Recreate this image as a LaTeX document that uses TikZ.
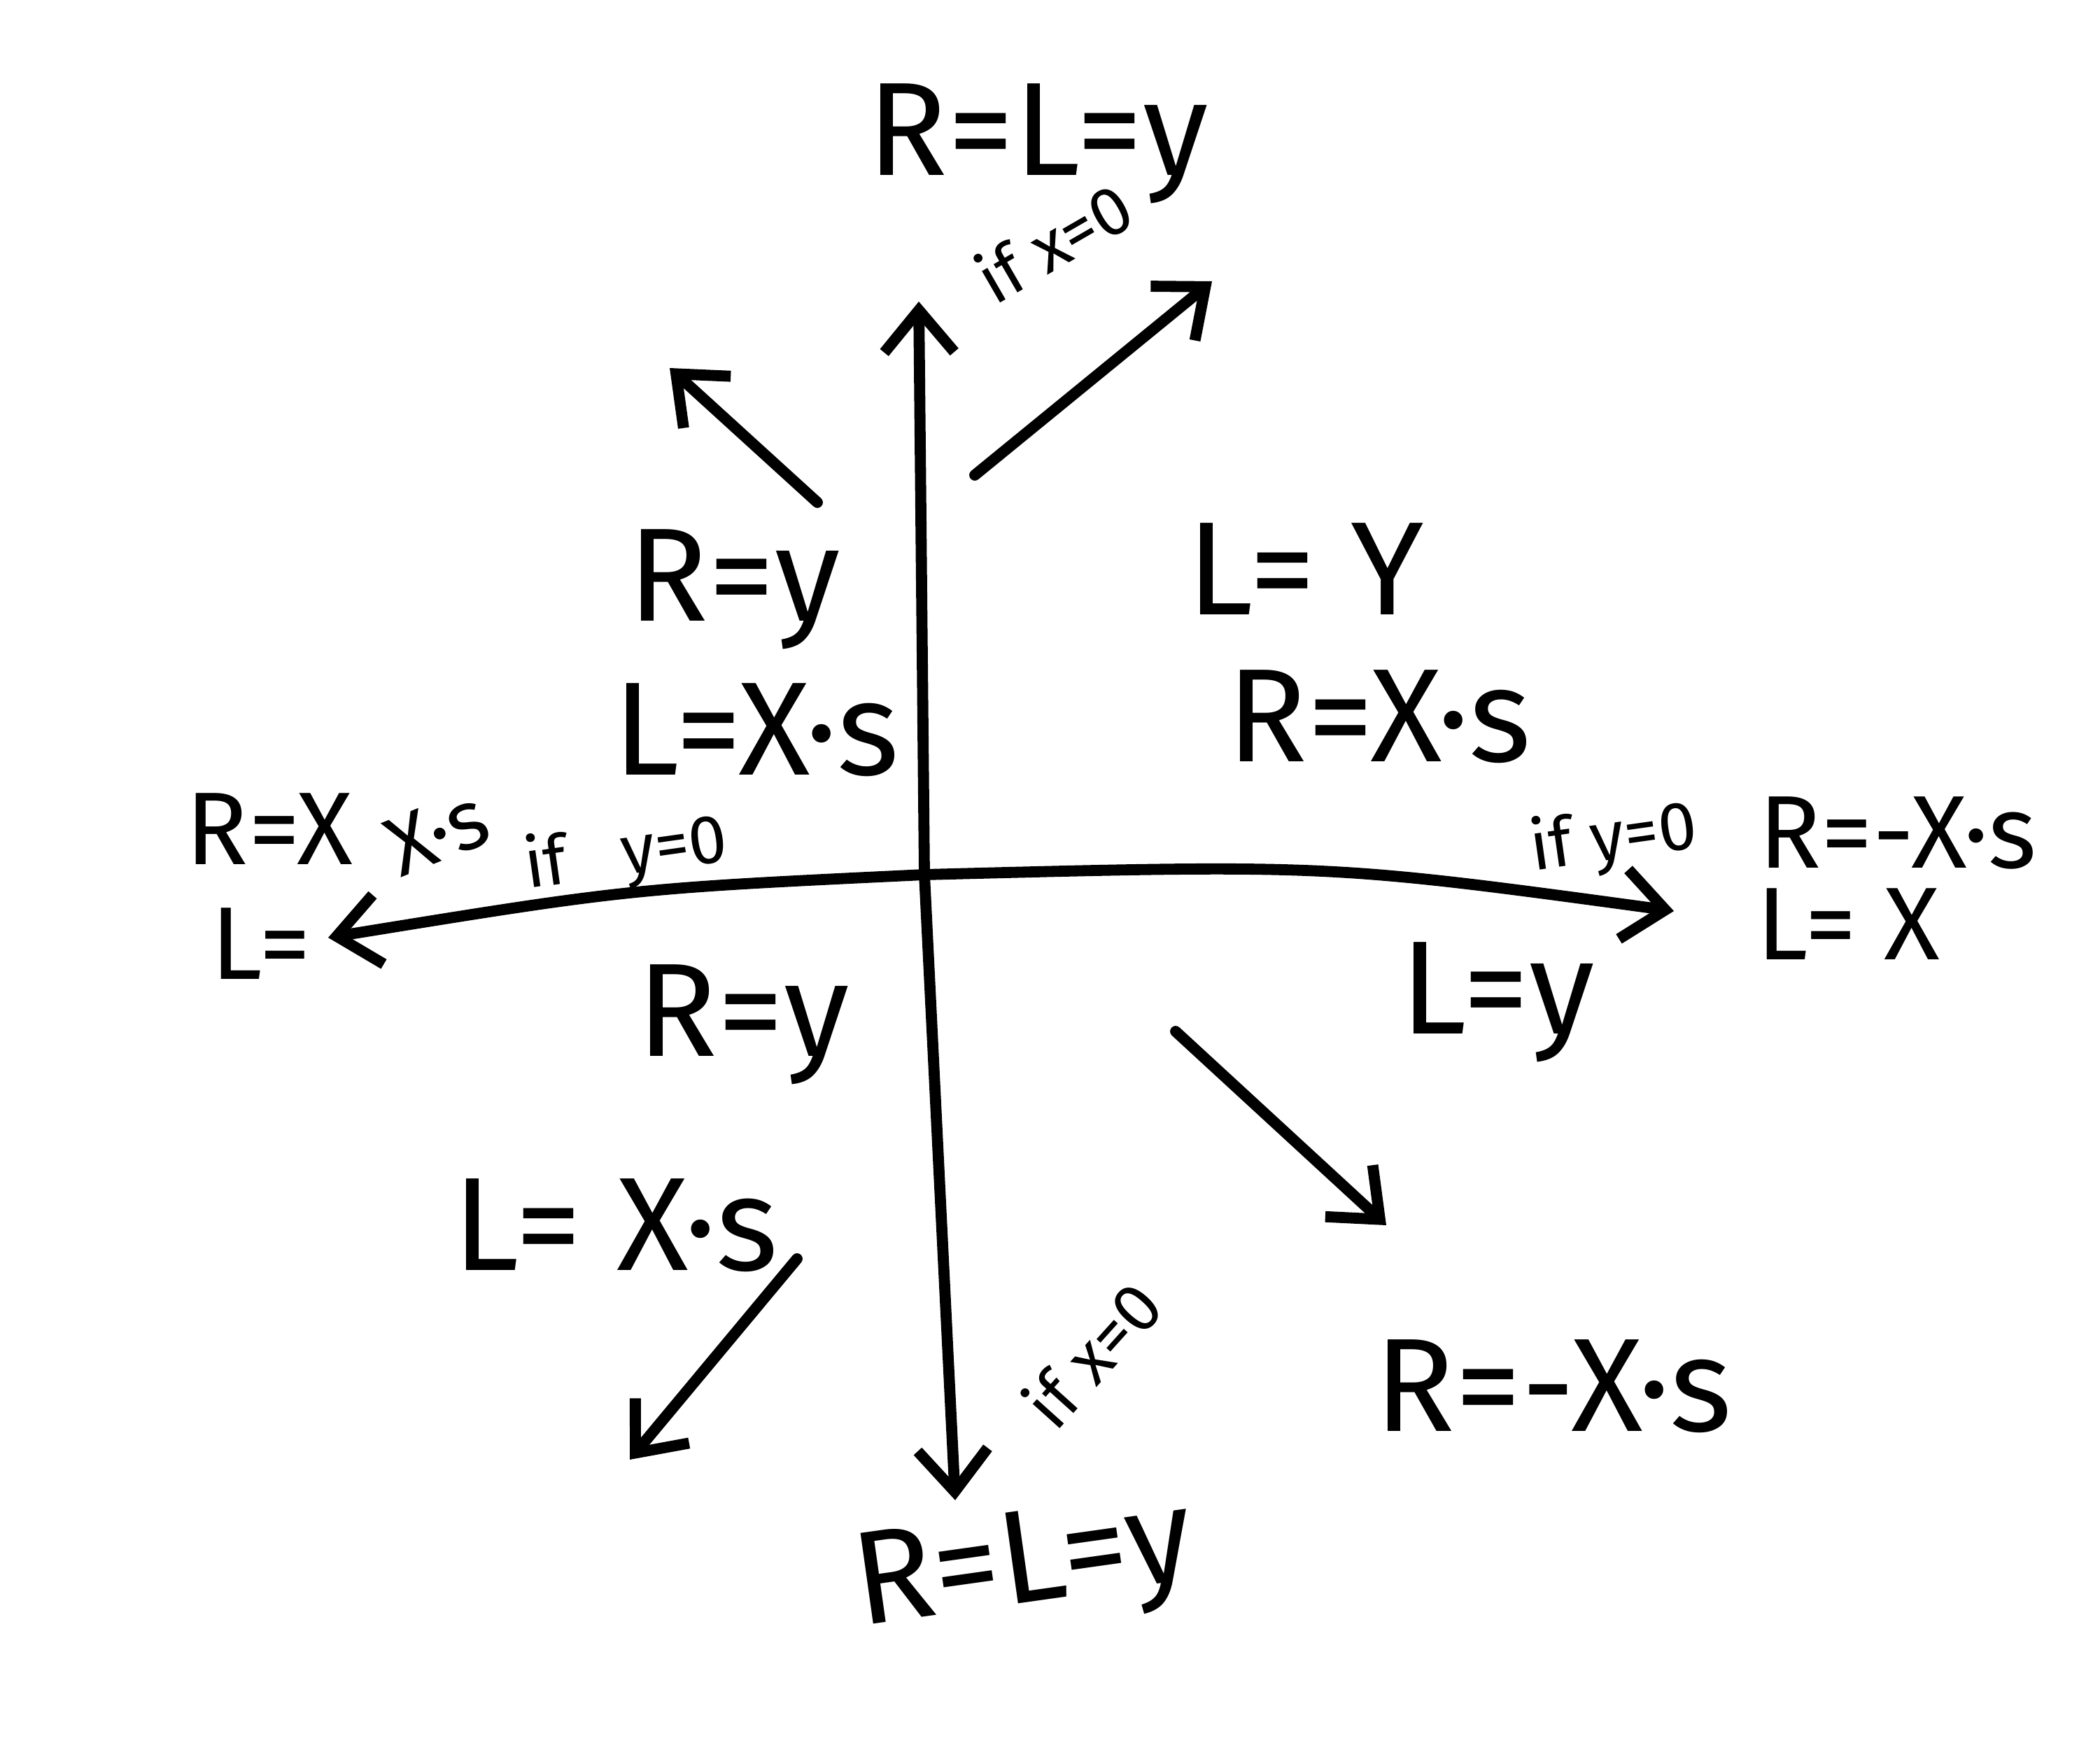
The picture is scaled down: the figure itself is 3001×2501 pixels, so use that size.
\documentclass[tikz,border=0pt]{standalone}
\usepackage{fontspec}
\setmainfont{Fira Sans}
\usetikzlibrary{arrows.meta}

\begin{document}
\begin{tikzpicture}[x=0.01cm, y=-0.01cm,
    big/.style={font=\fontsize{54}{56}\selectfont, inner sep=0pt},
    mid/.style={font=\fontsize{42}{44}\selectfont, inner sep=0pt},
    small/.style={font=\fontsize{28}{30}\selectfont, inner sep=0pt},
    pen/.style={line width=4.5pt, line cap=round, line join=round},
    arrow/.style={pen, -{Straight Barb[length=6mm, width=10mm, line width=4.5pt]}}]
    \useasboundingbox (0,0) rectangle (3001,2501);

    % axes
    \coordinate (o) at (1321,1250);
    \coordinate (top) at (1313,431);
    \coordinate (bot) at (1365,2144);
    \coordinate (lft) at (469,1340);
    \coordinate (rgt) at (2392,1302);
    \draw[arrow] (o) -- (top);
    \draw[arrow] (o) -- (bot);
    \draw[arrow] (o) .. controls (900,1270) .. (lft);
    \draw[arrow] (o) .. controls (1900,1235) .. (rgt);

    % diagonal arrows
    \coordinate (ulA) at (1168,718);  \coordinate (ulB) at (957,526);
    \coordinate (urA) at (1393,679);  \coordinate (urB) at (1732,402);
    \coordinate (lrA) at (1680,1474); \coordinate (lrB) at (1981,1751);
    \coordinate (llA) at (1139,1799); \coordinate (llB) at (900,2086);
    \draw[arrow] (ulA) -- (ulB);
    \draw[arrow] (urA) -- (urB);
    \draw[arrow] (lrA) -- (lrB);
    \draw[arrow] (llA) -- (llB);

    % labels on the axes
    \node[big] (topl) at (1483,205) {R=L=y};
    \node[small, rotate=30] (topif) at (1505,345) {if x=0};
    \node[big, rotate=8] (botl) at (1464,2245) {R=L=y};
    \node[small, rotate=48] (botif) at (1560,1935) {if x=0};
    \node[mid] (leftR) at (385,1185) {R=X};
    \node[mid] (leftL) at (373,1349) {L=};
    \node[font=\fontsize{34}{36}\selectfont, inner sep=0pt, rotate=22] (leftxs) at (625,1190) {X·s};
    \node[small, rotate=8] (leftif) at (895,1222) {if~~~y=0};
    \node[small, rotate=8] (rightif) at (2306,1200) {if y=0};
    \node[mid] (rightR) at (2712,1190) {R=-X·s};
    \node[mid] (rightL) at (2641,1321) {L= X};

    % labels in the quadrants
    \node[big] (ulR) at (1049,842) {R=y};
    \node[big] (ulL) at (1081,1043) {L=X·s};
    \node[big] (urL) at (1866,813) {L= Y};
    \node[big] (urR) at (1971,1024) {R=X·s};
    \node[big] (llR) at (1062,1464) {R=y};
    \node[big] (llL) at (880,1751) {L= X·s};
    \node[big] (lrL) at (2140,1432) {L=y};
    \node[big] (lrR) at (2220,1981) {R=-X·s};
\end{tikzpicture}
\end{document}
